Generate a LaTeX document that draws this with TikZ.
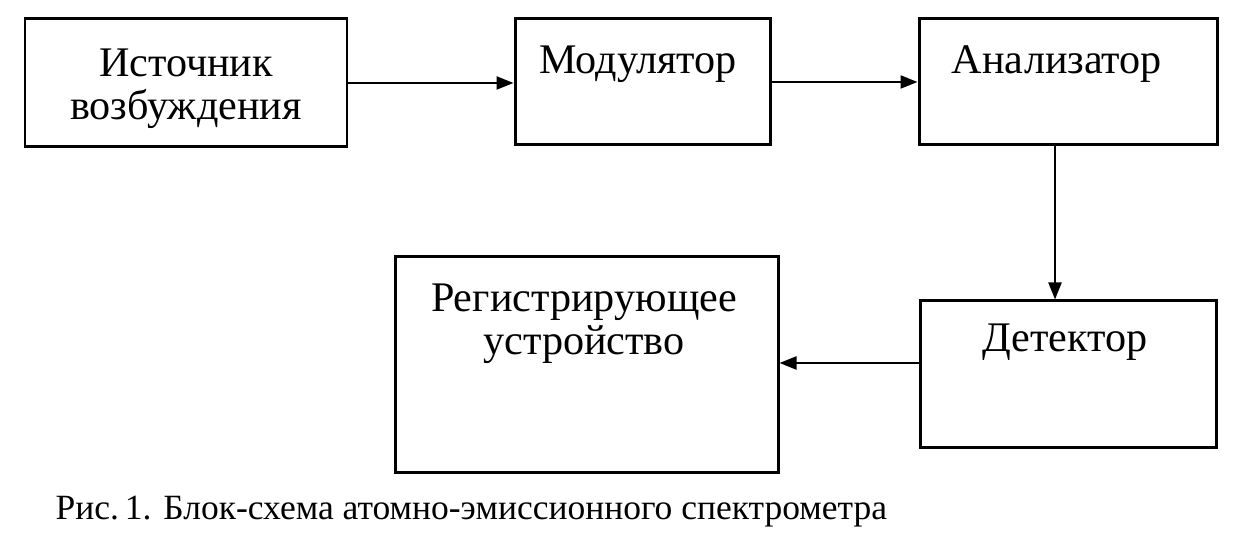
\documentclass[tikz,border=0pt]{standalone}
\usepackage{fontspec}
\setmainfont{Liberation Serif}
\usetikzlibrary{arrows.meta,positioning,calc}

\begin{document}
\begin{tikzpicture}[x=0.1mm,y=-0.1mm,
    box/.style={draw, line width=0.85pt, inner sep=0pt},
    lbl/.style={anchor=base, inner sep=0pt, font=\fontsize{12}{12}\selectfont},
    arr/.style={line width=0.6pt, -{Triangle[length=1.7mm,width=1.3mm]}}]

    % Page area
    \fill[white] (0,0) rectangle (1252,555);
    \useasboundingbox (0,0) rectangle (1252,555);

    % Blocks
    \node[box, minimum width=32.2mm, minimum height=12.8mm] (src) at (186,83) {};
    \node[box, minimum width=25.5mm, minimum height=12.6mm] (mod) at (642.5,82) {};
    \node[box, minimum width=29.8mm, minimum height=12.6mm] (ana) at (1068,82) {};
    \node[box, minimum width=38.3mm, minimum height=21.6mm] (reg) at (586.5,365) {};
    \node[box, minimum width=29.6mm, minimum height=14.7mm] (det) at (1068,374.5) {};

    % Block texts
    \node[lbl] (srcA) at (186,77) {Источник};
    \node[lbl] (srcB) at (186,120) {возбуждения};
    \node[lbl] (modA) at (638,74) {Модулятор};
    \node[lbl] (anaA) at (1057,74) {Анализатор};
    \node[lbl] (regA) at (584,312) {Регистрирующее};
    \node[lbl] (regB) at (584,355) {устройство};
    \node[lbl] (detA) at (1065,352) {Детектор};

    % Signal path
    \draw[arr] (src.east) -- (src.east -| mod.west);
    \draw[arr] (mod.east) -- (mod.east -| ana.west);
    \draw[arr] ([xshift=-1.3mm]ana.south) -- ([xshift=-1.3mm]ana.south |- det.north);
    \draw[arr] ([yshift=1.15mm]det.west) -- ([yshift=1.15mm]det.west -| reg.east);

    % Caption
    \node[anchor=base west, inner sep=0pt, font=\fontsize{10.1}{10.1}\selectfont] (cap) at (55,520)
        {Рис.\,1. Блок-схема атомно-эмиссионного спектрометра};
\end{tikzpicture}
\end{document}
